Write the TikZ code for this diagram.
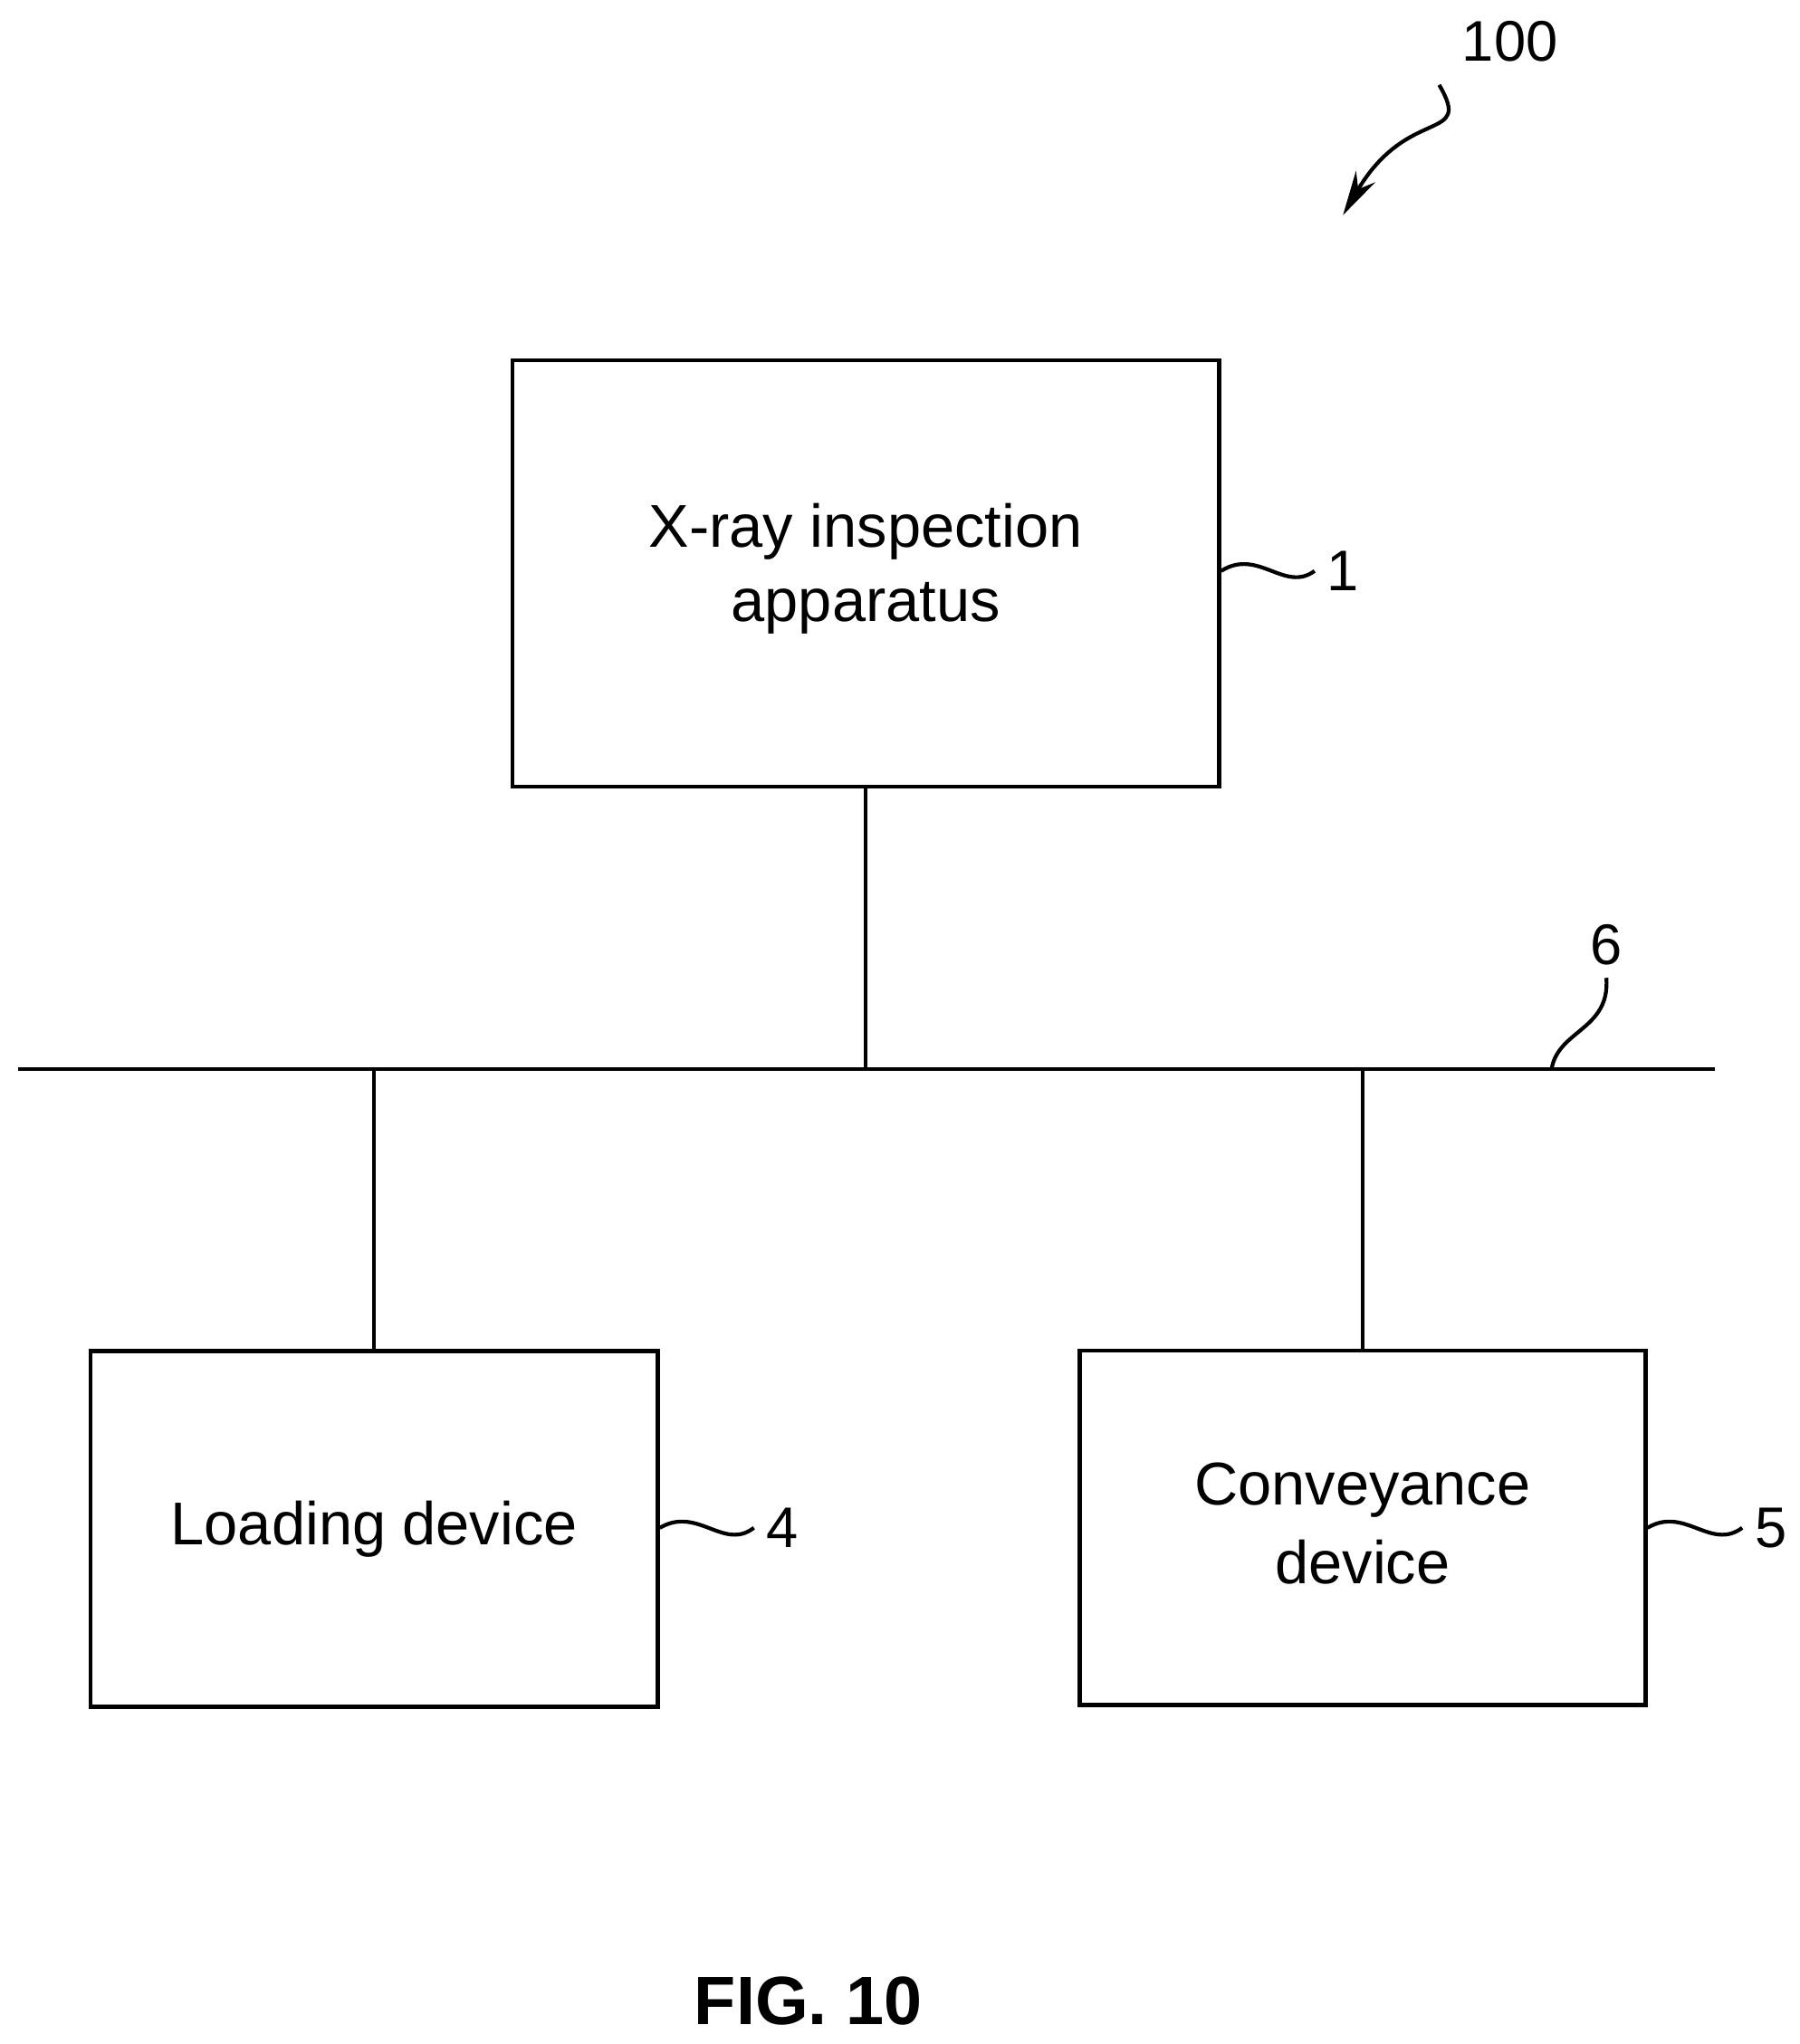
\documentclass[tikz,border=0pt]{standalone}
\usepackage{fontspec}
\setmainfont{Liberation Sans}
\usetikzlibrary{positioning,arrows.meta}
\begin{document}
\begin{tikzpicture}[x=0.0144cm,y=-0.0144cm,line width=1.2pt,
	unit/.style={draw=black,line width=1.3pt,inner sep=0pt,align=center,font=\fontsize{19}{25}\selectfont},
	refnum/.style={font=\fontsize{18}{20}\selectfont}]
	\useasboundingbox (0,0) rectangle (1380,1568);
	% boxes
	\node[unit,minimum width=542*0.0144cm,minimum height=327*0.0144cm] (xray) at (664,440) {\raisebox{7pt}{\shortstack{X-ray inspection\\[4pt]apparatus}}};
	\node[unit,minimum width=435*0.0144cm,minimum height=273*0.0144cm] (load) at (287,1173) {Loading device};
	\node[unit,minimum width=434*0.0144cm,minimum height=272*0.0144cm] (conv) at (1045,1172) {\raisebox{3pt}{\shortstack{Conveyance\\[4pt]device}}};
	% bus
	\coordinate (busL) at (14,820);
	\coordinate (busR) at (1315,820);
	\draw (busL) -- (busR);
	\draw (xray.south) -- (xray.south |- busL);
	\draw (load.north) -- (load.north |- busL);
	\draw (conv.north) -- (conv.north |- busL);
	% reference numerals
	\node[refnum] (n1) at (1030,438) {1};
	\node[refnum] (n4) at (600,1172) {4};
	\node[refnum] (n5) at (1358,1172) {5};
	\node[refnum] (n6) at (1232,725) {6};
	\node[refnum] (n100) at (1158,32) {100};
	\draw (xray.east |- n1) .. controls (965,420) and (985,455) .. (n1.west);
	\draw (load.east |- n4) .. controls (535,1155) and (555,1190) .. (n4.west);
	\draw (conv.east |- n5) .. controls (1292,1155) and (1312,1190) .. (n5.west);
	\draw (1190,820) .. controls (1195,790) and (1235,790) .. (n6.south);
	\draw[-{Stealth[length=14pt,width=7pt]}] (n100.south west) ++(-8,8) .. controls (1130,110) and (1080,80) .. (1030,165);
	% caption
	\node[font=\bfseries\fontsize{21.5}{26}\selectfont] (fig) at (620,1535) {FIG. 10};
\end{tikzpicture}
\end{document}
